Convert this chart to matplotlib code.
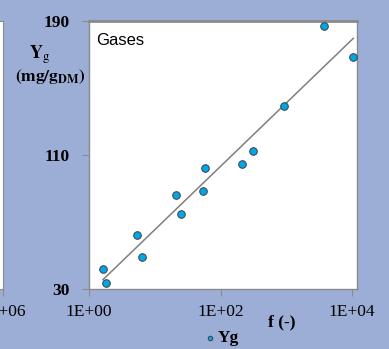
import numpy as np
import matplotlib
matplotlib.use("Agg")
import matplotlib.pyplot as plt

# values
f_values = [1.63, 1.80, 5.3, 6.5, 21.0, 25.1, 53.6, 58.1, 212, 312, 914, 3710, 10470]
yg_values = [41.8, 33.8, 62.4, 49.3, 86.1, 74.6, 88.7, 102.1, 104.6, 112.6, 139.3, 187.0, 168.3]
x_ticks = [1, 100, 10000]
x_tick_labels = ["1E+00", "1E+02", "1E+04"]
y_ticks = [30, 110, 190]

bg = "#9cadd6"
serif = "Liberation Serif"

fig = plt.figure(figsize=(3.89, 3.49), dpi=100)
fig.patch.set_facecolor(bg)

# neighbouring panel, only its right edge is visible
ax0 = fig.add_axes([-0.69, 0.1719, 0.6977, 0.768])
ax0.set_xscale("log")
ax0.set_xlim(1e6 / 10**4.076, 1e6)
ax0.set_xticks([1e6])
ax0.set_xticklabels(["1E+06"], family=serif, fontsize=12.5)
ax0.minorticks_off()
ax0.set_yticks([])
for s in ax0.spines.values():
    s.set_color("#8a8a8a")
ax0.tick_params(axis="x", colors="#8a8a8a", labelcolor="black", length=5, pad=6)

ax = fig.add_axes([0.2288, 0.1719, 0.689, 0.768])
ax.set_facecolor("white")
ax.set_xscale("log")
ax.set_xlim(1, 10**4.076)
ax.set_ylim(30, 190)

# logarithmic trend line
coef = np.polyfit(np.log10(f_values), yg_values, 1)
fx = np.logspace(np.log10(min(f_values)), np.log10(max(f_values)), 50)
ax.plot(fx, np.polyval(coef, np.log10(fx)), color="#7f7f7f", lw=1.1, zorder=2)

ax.scatter(f_values, yg_values, s=30, color="#00a6e6", edgecolors="#404040",
           linewidths=0.7, zorder=3, label="Yg")

ax.set_xticks(x_ticks)
ax.set_xticklabels(x_tick_labels, family=serif, fontsize=12.5)
ax.minorticks_off()
ax.set_yticks(y_ticks)
ax.set_yticklabels([str(v) for v in y_ticks], family=serif, fontsize=12.5,
                   fontweight="bold")
ax.tick_params(axis="both", colors="#8a8a8a", labelcolor="black", length=5)
ax.tick_params(axis="x", pad=6)
ax.tick_params(axis="y", pad=9)
for s in ax.spines.values():
    s.set_color("#8a8a8a")
    s.set_linewidth(1.0)
ax.spines["top"].set_linewidth(2.0)

ax.text(0.025, 0.955, "Gases", transform=ax.transAxes, family="Liberation Sans",
        fontsize=12, va="top", ha="left")

fig.text(40 / 389, 1 - 55 / 349, r"$\mathbf{Y}_{\mathrm{g}}$", family=serif,
         fontsize=13, ha="center", va="center", math_fontfamily="stix")
fig.text(50 / 389, 1 - 77 / 349, r"$\mathbf{(mg/g}_{\mathbf{DM}}\mathbf{)}$",
         fontsize=12.5, ha="center", va="center", math_fontfamily="stix")
fig.text(282 / 389, 1 - 322 / 349, "f (-)", family=serif, fontsize=12.5,
         fontweight="bold", ha="center", va="center")

leg = ax.legend(loc="center", bbox_to_anchor=(221 / 389, 1 - 338 / 349),
                bbox_transform=fig.transFigure, frameon=False, handletextpad=0.1,
                markerscale=0.6, borderpad=0, handlelength=0.8,
                prop={"family": serif, "size": 12.5, "weight": "bold"})

fig.savefig("out.png", dpi=100, facecolor=bg)
